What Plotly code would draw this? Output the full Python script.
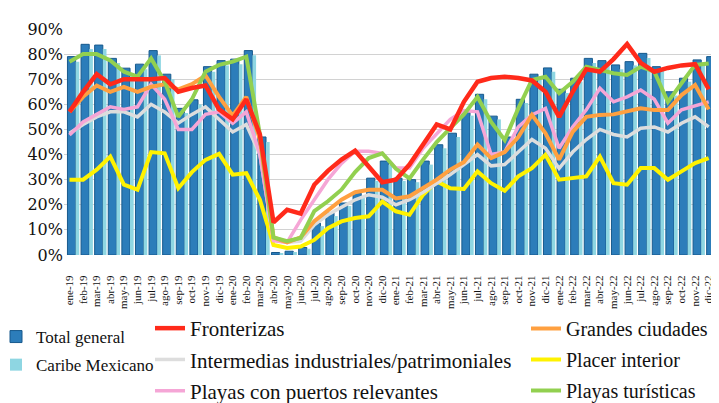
import plotly.graph_objects as go

months = ["ene-19", "feb-19", "mar-19", "abr-19", "may-19", "jun-19", "jul-19", "ago-19", "sep-19", "oct-19", "nov-19", "dic-19",
          "ene-20", "feb-20", "mar-20", "abr-20", "may-20", "jun-20", "jul-20", "ago-20", "sep-20", "oct-20", "nov-20", "dic-20",
          "ene-21", "feb-21", "mar-21", "abr-21", "may-21", "jun-21", "jul-21", "ago-21", "sep-21", "oct-21", "nov-21", "dic-21",
          "ene-22", "feb-22", "mar-22", "abr-22", "may-22", "jun-22", "jul-22", "ago-22", "sep-22", "oct-22", "nov-22", "dic-22"]

total_general = [79, 83.9, 83.6, 78.3, 74.4, 76, 81.4, 72, 58.4, 61.8, 75, 77.4,
                 78, 81.4, 47, 1, 1.5, 3, 12.7, 16.7, 20.7, 24.6, 30.6, 37.4,
                 30.6, 30, 37.4, 43.9, 48.5, 57, 64, 55.3, 47, 62, 72, 74.5,
                 66, 70.4, 78.3, 77.4, 75.7, 77, 80.3, 75, 65, 70.4, 77.7, 79]

caribe_mexicano = [77, 82, 82, 76.5, 72.5, 74, 79.5, 70, 56.5, 60, 73, 75.5,
                   76, 79.5, 45, 0.8, 1.2, 2.5, 11.5, 15.5, 19.5, 23.5, 29.5, 36,
                   29.5, 29, 36, 42.5, 47, 55.5, 62, 54, 45.5, 60.5, 70.5, 73,
                   64.5, 69, 76.5, 75.5, 74, 75.5, 78.5, 73.5, 63.5, 69, 76, 77.5]

fronterizas = [57, 65, 72, 68, 70, 70, 70, 70.5, 65, 66.5, 67.5, 58,
               54, 62, 48, 13, 18, 16.5, 28, 33.5, 38, 41.5, 35, 29,
               30, 36, 44, 52, 50, 61, 69, 70.5, 71, 70.5, 69.5, 65,
               55, 65, 74, 73, 78, 84, 76.5, 73, 74.5, 75.5, 76, 66]

grandes_ciudades = [57, 63, 67.5, 65, 67, 65, 67, 68, 66, 68, 71.5, 63,
                    55.5, 63, 46, 7, 5, 7, 13.5, 18, 22, 25, 26, 26,
                    22.5, 23.4, 26.5, 30, 34, 37, 44, 38.6, 41, 47, 55.8, 48.5,
                    38, 49, 55, 55.8, 56, 57, 58.4, 57.7, 57.7, 63.7, 67.7, 58]

intermedias = [48.5, 52, 55, 57, 57, 55, 60, 57, 52.5, 56, 59, 54,
               49, 52, 40, 6, 5, 5.5, 12, 16, 19, 22, 24, 23,
               20, 22, 25, 28.5, 32, 36, 40, 35.5, 36, 41, 46, 42.5,
               34.5, 41, 46, 50, 48, 47, 50.5, 51, 49, 52.5, 55, 51]

placer_interior = [30, 30, 34, 39.2, 28, 26, 41, 40.5, 26.6, 33, 37.9, 40.3,
                   32, 32.6, 22, 4, 2.8, 3.4, 6, 10.7, 13.4, 14.7, 15.4, 21.3,
                   17.4, 16, 24, 29.3, 26.6, 26.3, 33.3, 28.6, 25.6, 31.3, 34.6, 39.9,
                   30, 30.6, 31.3, 39.2, 28.6, 28, 34.6, 34.6, 30, 33.3, 36.6, 38.6]

playas_puertos = [47.8, 53, 56, 59, 58, 59, 68, 62, 50, 50, 56, 57,
                  52.5, 57, 40, 5.7, 5, 14, 22, 30, 36.5, 41.3, 41.3, 40.5,
                  34.6, 34.6, 42.5, 48.5, 54, 57.5, 57, 40, 41, 51, 55.8, 58.4,
                  42.5, 51, 57.8, 66.4, 61, 63, 65.7, 62, 52.5, 57.8, 59.5, 61]

playas_turisticas = [77, 80, 80, 77.5, 73, 71, 78.3, 69, 55, 62, 73, 75.7,
                     77, 79, 48, 7, 5.5, 6.8, 17.5, 21.4, 26, 33, 38.6, 40.5,
                     34.3, 30.5, 38, 45, 50.5, 56, 63, 53, 45.8, 58.4, 69.7, 71,
                     64.4, 69, 75, 73.7, 72.4, 71.7, 75, 73, 61, 68.4, 75.7, 76.3]

y_ticks = [0, 10, 20, 30, 40, 50, 60, 70, 80, 90]
y_tick_labels = ["0%", "10%", "20%", "30%", "40%", "50%", "60%", "70%", "80%", "90%"]

LEG_FONT = "Liberation Serif"

fig = go.Figure()

fig.add_trace(go.Bar(
    x=months, y=total_general, name="Total general",
    marker=dict(color="#2C7DBA", line=dict(color="#17598C", width=1)),
    width=0.6, offset=-0.15,
    legend="legend", legendgroup="tg", legendrank=1,
))
fig.add_trace(go.Bar(
    x=months, y=caribe_mexicano, name="Caribe Mexicano",
    marker=dict(color="#8ED6E2", line=dict(width=0)),
    width=0.27, offset=0.45,
    legend="legend", legendgroup="cm", legendrank=2,
))

lines = [
    ("Placer interior", placer_interior, "#FFF200", 4, "legend3", 2),
    ("Intermedias industriales/patrimoniales", intermedias, "#DDDDDD", 3.5, "legend2", 2),
    ("Playas con puertos relevantes", playas_puertos, "#F5A6D6", 3.5, "legend2", 3),
    ("Grandes ciudades", grandes_ciudades, "#FFA040", 4, "legend3", 1),
    ("Playas turísticas", playas_turisticas, "#92D050", 4, "legend3", 3),
    ("Fronterizas", fronterizas, "#FF2A1A", 4.5, "legend2", 1),
]
for name, vals, color, w, leg, rank in lines:
    fig.add_trace(go.Scatter(
        x=months, y=vals, name=name, mode="lines",
        line=dict(color=color, width=w),
        legend=leg, legendgroup=name, legendrank=rank,
    ))

W, H = 719, 403
ML, MR, MT, MB = 56, 7, 21, 156
PW = W - ML - MR
PH = H - MT - MB

# category spacing / placement (px)
cat_step, cat_first = 13.6, 61.5
x_r0 = -(cat_first - ML) / cat_step
x_r1 = x_r0 + PW / cat_step


def px_x(p):
    return (p - ML) / PW


def px_y(p):
    return (H - MB - p) / PH


fig.update_layout(
    width=W, height=H,
    margin=dict(l=ML, r=MR, t=MT, b=MB, autoexpand=False),
    plot_bgcolor="white", paper_bgcolor="white",
    barmode="overlay",
    showlegend=True,
    xaxis=dict(
        type="category", range=[x_r0, x_r1], tickangle=-90,
        tickfont=dict(family=LEG_FONT, size=11, color="#111"),
        showgrid=False, zeroline=False, showline=False,
        ticks="outside", ticklen=15, tickcolor="rgba(0,0,0,0)",
    ),
    yaxis=dict(
        range=[0, 90], tickvals=y_ticks, ticktext=y_tick_labels,
        tickfont=dict(family="DejaVu Serif", size=16, color="#111"),
        showgrid=True, gridcolor="#D2D2D2", gridwidth=1,
        zeroline=False, showline=False, ticks="",
    ),
    legend=dict(
        x=px_x(-12), y=px_y(311), xanchor="left", yanchor="top",
        font=dict(family=LEG_FONT, size=17, color="#111"),
        tracegroupgap=3, bgcolor="rgba(0,0,0,0)", itemwidth=30, maxheight=200,
    ),
    legend2=dict(
        x=px_x(142), y=px_y(300), xanchor="left", yanchor="top",
        font=dict(family=LEG_FONT, size=21, color="#111"),
        tracegroupgap=1, bgcolor="rgba(0,0,0,0)", itemwidth=30, maxheight=200,
    ),
    legend3=dict(
        x=px_x(518), y=px_y(301), xanchor="left", yanchor="top",
        font=dict(family=LEG_FONT, size=20, color="#111"),
        tracegroupgap=2, bgcolor="rgba(0,0,0,0)", itemwidth=30, maxheight=200,
    ),
)

fig.write_html("out.html")
